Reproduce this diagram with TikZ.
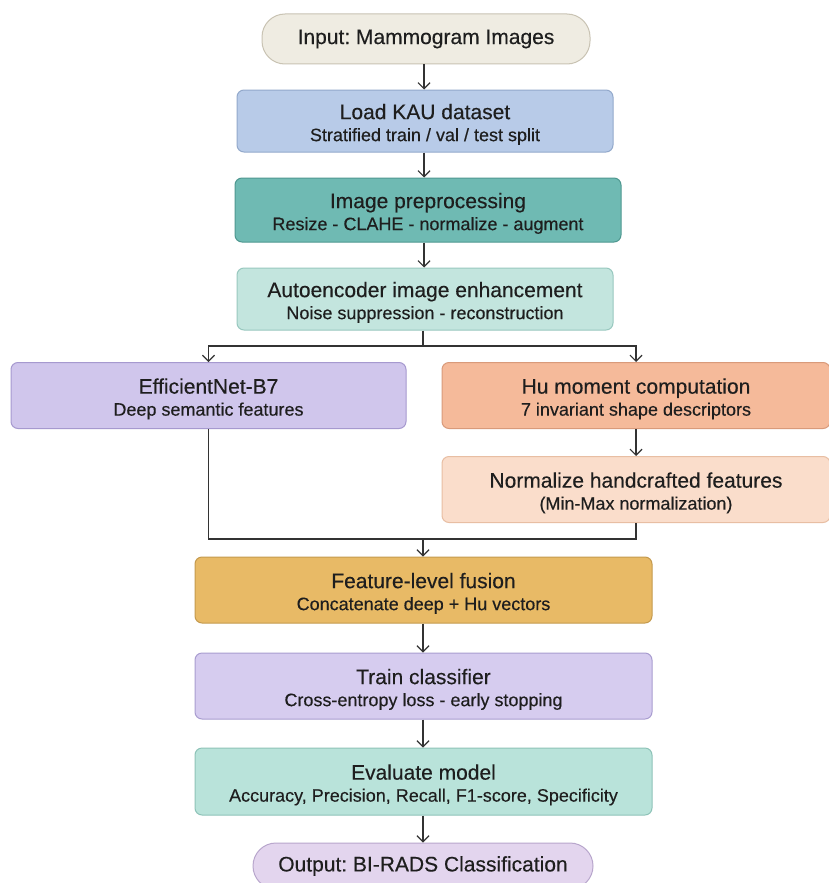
\documentclass[tikz,border=0pt]{standalone}
\usepackage{fontspec}
\setmainfont{Liberation Sans}[FakeBold=0.3]
\usetikzlibrary{arrows.meta}
\definecolor{txt}{HTML}{1E1E1E}
\definecolor{ln}{HTML}{333333}
\definecolor{inF}{HTML}{EFECE2}\definecolor{inD}{HTML}{C9C3B3}
\definecolor{ldF}{HTML}{B8CBE8}\definecolor{ldD}{HTML}{93A9CB}
\definecolor{prF}{HTML}{6FBAB3}\definecolor{prD}{HTML}{4F9890}
\definecolor{auF}{HTML}{C3E5DE}\definecolor{auD}{HTML}{98C8BF}
\definecolor{efF}{HTML}{D0C6EC}\definecolor{efD}{HTML}{A699CF}
\definecolor{huF}{HTML}{F5BA9A}\definecolor{huD}{HTML}{D99A7A}
\definecolor{noF}{HTML}{FADDCB}\definecolor{noD}{HTML}{E8BEA3}
\definecolor{fuF}{HTML}{E8BA66}\definecolor{fuD}{HTML}{C49A4E}
\definecolor{trF}{HTML}{D6CCEF}\definecolor{trD}{HTML}{A99DD0}
\definecolor{evF}{HTML}{B9E3DA}\definecolor{evD}{HTML}{8EC3B8}
\definecolor{ouF}{HTML}{E3D5EE}\definecolor{ouD}{HTML}{B8A6CC}
\newcommand\boxtitle[1]{{\fontsize{21}{21}\selectfont\rule{0pt}{22pt}#1}}
\tikzset{
  box/.style={draw, rounded corners=7pt, line width=1pt, inner sep=0pt, align=center,
    text=txt, font=\frenchspacing\fontsize{18}{22}\selectfont},
  pill/.style={draw, rounded corners=23pt, line width=1pt, inner sep=0pt, align=center,
    text=txt, font=\frenchspacing\fontsize{21}{21}\selectfont},
  conn/.style={draw=ln, line width=1.2pt},
  arr/.style={conn, -{Straight Barb[length=6pt,width=12pt,line width=1.2pt]}},
}
\begin{document}
\frenchspacing
\begin{tikzpicture}[x=1pt,y=-1pt]
\useasboundingbox (0,0) rectangle (828,883);
\fill[white] (0,0) rectangle (828,883);

\node[pill, fill=inF, draw=inD, minimum width=328, minimum height=50] (in) at (426,39) {Input: Mammogram Images};
\node[box, fill=ldF, draw=ldD, minimum width=376, minimum height=62] (load) at (425,121)
  {\boxtitle{Load KAU dataset}\\Stratified train / val / test split};
\node[box, fill=prF, draw=prD, minimum width=386, minimum height=64] (pre) at (428,210)
  {\boxtitle{Image preprocessing}\\Resize - CLAHE - normalize - augment};
\node[box, fill=auF, draw=auD, minimum width=376, minimum height=62] (auto) at (425,299)
  {\boxtitle{Autoencoder image enhancement}\\Noise suppression - reconstruction};
\node[box, fill=efF, draw=efD, minimum width=395, minimum height=66] (eff) at (208.5,395.5)
  {\boxtitle{EfficientNet-B7}\\Deep semantic features};
\node[box, fill=huF, draw=huD, minimum width=388, minimum height=66] (hu) at (636,395.5)
  {\boxtitle{Hu moment computation}\\7 invariant shape descriptors};
\node[box, fill=noF, draw=noD, minimum width=388, minimum height=66] (norm) at (636,489.5)
  {\boxtitle{Normalize handcrafted features}\\(Min-Max normalization)};
\node[box, fill=fuF, draw=fuD, minimum width=457, minimum height=66] (fus) at (423.5,590)
  {\boxtitle{Feature-level fusion}\\Concatenate deep + Hu vectors};
\node[box, fill=trF, draw=trD, minimum width=457, minimum height=66] (train) at (423.5,686)
  {\boxtitle{Train classifier}\\Cross-entropy loss - early stopping};
\node[box, fill=evF, draw=evD, minimum width=457, minimum height=67] (eval) at (423.5,781.5)
  {\boxtitle{Evaluate model}\\Accuracy, Precision, Recall, F1-score, Specificity};
\node[pill, fill=ouF, draw=ouD, minimum width=340, minimum height=46] (out) at (423,866)
  {Output: BI-RADS Classification};

\coordinate (c1) at (424,0);
\draw[arr] (in.south -| c1) -- (load.north -| c1);
\draw[arr] (load.south -| c1) -- (pre.north -| c1);
\draw[arr] (pre.south -| c1) -- (auto.north -| c1);

\coordinate (sp) at (423,346);
\draw[conn] (auto.south -| sp) -- (sp);
\draw[arr] (sp) -| (eff.north);
\draw[arr] (sp) -| (hu.north);
\draw[arr] (hu.south) -- (norm.north);

\coordinate (mg) at (423,539);
\draw[conn] (eff.south) |- (mg);
\draw[conn] (norm.south) |- (mg);
\draw[arr] (mg) -- (fus.north -| mg);
\draw[arr] (fus.south -| mg) -- (train.north -| mg);
\draw[arr] (train.south -| mg) -- (eval.north -| mg);
\draw[arr] (eval.south -| mg) -- (out.north -| mg);
\end{tikzpicture}
\end{document}
